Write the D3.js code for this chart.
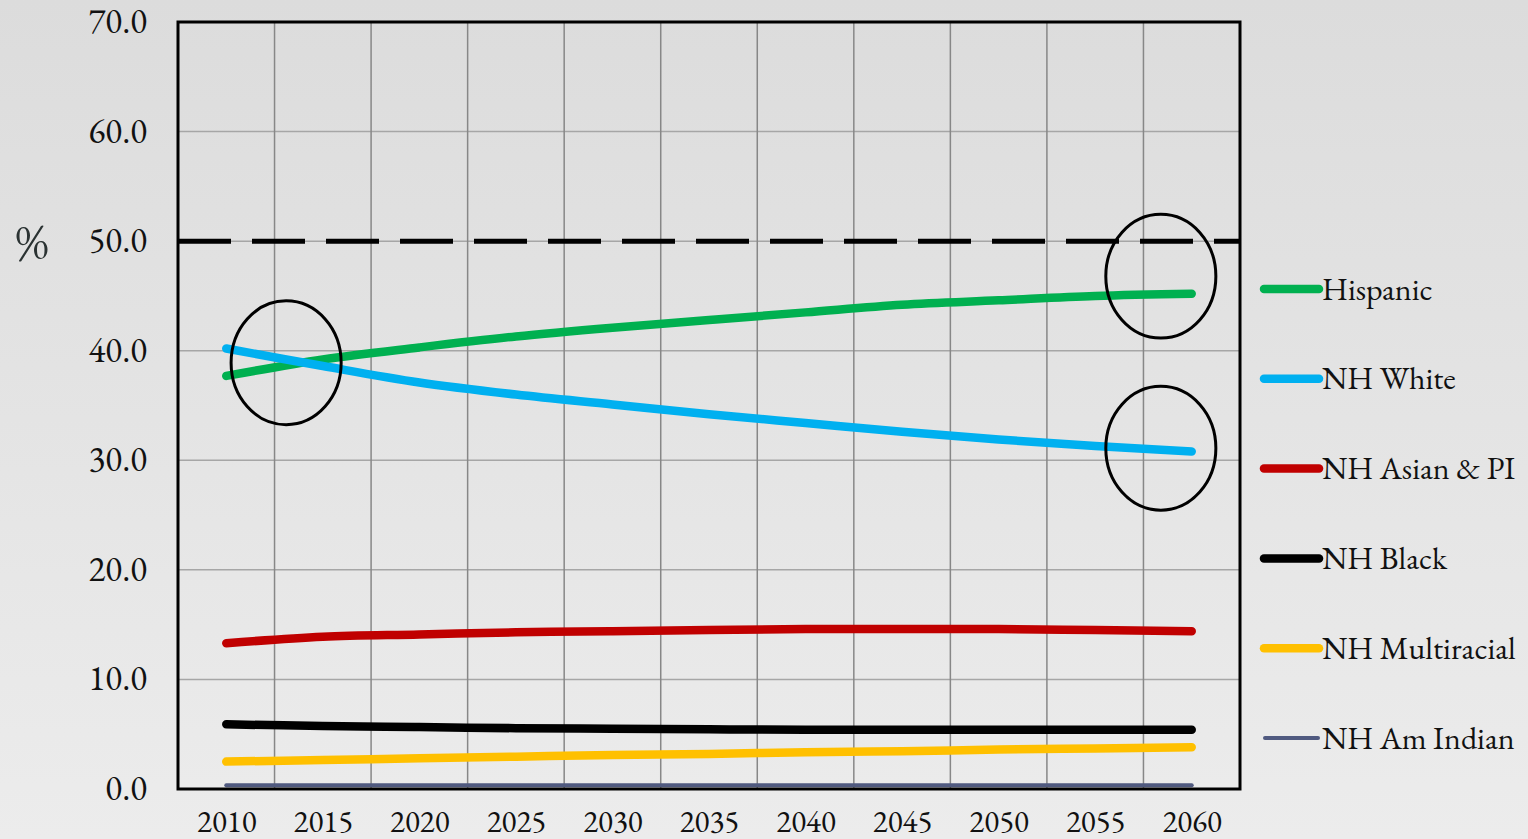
<!DOCTYPE html>
<html><head><meta charset="utf-8">
<script src="https://cdn.jsdelivr.net/npm/d3@7"></script>
<style>
html,body{margin:0;padding:0;overflow:hidden;}
svg{display:block;}
</style></head>
<body>
<svg id="chart" width="1528" height="839"></svg>
<script>
const years = [2010,2015,2020,2025,2030,2035,2040,2045,2050,2055,2060];
const hispanic    = [37.7,39.2,40.3,41.3,42.1,42.8,43.5,44.2,44.6,45.0,45.2];
const nhWhite     = [40.2,38.6,37.1,36.0,35.1,34.2,33.4,32.6,31.9,31.3,30.8];
const nhAsian     = [13.3,13.9,14.1,14.3,14.4,14.5,14.6,14.6,14.6,14.5,14.4];
const nhBlack     = [5.9,5.75,5.65,5.55,5.5,5.45,5.4,5.4,5.4,5.4,5.4];
const nhMulti     = [2.5,2.65,2.8,2.95,3.1,3.2,3.35,3.45,3.6,3.7,3.8];
const nhAmIndian  = [0.35,0.35,0.35,0.35,0.35,0.35,0.35,0.35,0.35,0.35,0.35];
const seriesNames = ["Hispanic","NH White","NH Asian & PI","NH Black","NH Multiracial","NH Am Indian"];
const yTicks = [0,10,20,30,40,50,60,70];
const threshold = 50;
// annotation ellipses: [year, value, halfWidthYears, halfHeightValue]
const highlights = [[2013.1,38.9,2.85,5.65],[2058.4,46.8,2.85,5.65],[2058.4,31.1,2.85,5.65]];

const seriesValues = [hispanic,nhWhite,nhAsian,nhBlack,nhMulti,nhAmIndian];
const colors = ["#00b050","#00b0f0","#c00000","#000000","#ffc000","#505a80"];
const widths = [8.5,8.5,8.5,8.5,8.5,4];
const FONT = "'EB Garamond','Garamond','Liberation Serif',serif";

const W=1528,H=839;
const svg=d3.select("#chart");
const defs=svg.append("defs");
const grad=defs.append("linearGradient").attr("id","bg").attr("x1",0).attr("y1",0).attr("x2",0).attr("y2",1);
grad.append("stop").attr("offset","0%").attr("stop-color","#dcdcdc");
grad.append("stop").attr("offset","100%").attr("stop-color","#ececec");
svg.append("rect").attr("width",W).attr("height",H).attr("fill","url(#bg)");

const L=178,R=1240,T=22,B=789;
const x=d3.scaleLinear().domain([2007.5,2062.5]).range([L,R]);
const y=d3.scaleLinear().domain([0,70]).range([B,T]);

// gridlines
const g=svg.append("g");
g.selectAll("line.h").data(yTicks.filter(v=>v>0&&v<70)).join("line")
 .attr("x1",L).attr("x2",R).attr("y1",d=>y(d)).attr("y2",d=>y(d))
 .attr("stroke","#a6a6a6").attr("stroke-width",1.5);
g.selectAll("line.v").data(years.slice(0,-1).map(d=>d+2.5)).join("line")
 .attr("x1",d=>x(d)).attr("x2",d=>x(d)).attr("y1",T).attr("y2",B)
 .attr("stroke","#878787").attr("stroke-width",1.5);

// threshold dashed line
svg.append("line").attr("x1",L).attr("x2",R).attr("y1",y(threshold)).attr("y2",y(threshold))
 .attr("stroke","#000").attr("stroke-width",5).attr("stroke-dasharray","53 21");

// series lines
const line=d3.line().x((d,i)=>x(years[i])).y(d=>y(d)).curve(d3.curveCatmullRom.alpha(0.5));
const order=[5,4,3,2,0,1];
order.forEach(k=>{
  svg.append("path").attr("d",line(seriesValues[k])).attr("fill","none")
   .attr("stroke",colors[k]).attr("stroke-width",widths[k]).attr("stroke-linecap","round").attr("stroke-linejoin","round");
});

// ellipses
svg.selectAll("ellipse.hl").data(highlights).join("ellipse")
 .attr("cx",d=>x(d[0])).attr("cy",d=>y(d[1]))
 .attr("rx",d=>x(d[0]+d[2])-x(d[0])).attr("ry",d=>y(d[1]-d[3])-y(d[1]))
 .attr("fill","none").attr("stroke","#000").attr("stroke-width",3);

// plot border
svg.append("rect").attr("x",L).attr("y",T).attr("width",R-L).attr("height",B-T)
 .attr("fill","none").attr("stroke","#000").attr("stroke-width",3);

// y axis labels
const yAxis=d3.axisLeft(y).tickValues(yTicks).tickFormat(d3.format(".1f")).tickSize(0).tickPadding(31);
const ya=svg.append("g").attr("transform",`translate(${L},0)`).call(yAxis);
ya.select(".domain").remove();
ya.selectAll("text").style("font-family",FONT).style("font-size","35px").attr("fill","#111").attr("dy","0.3em");

// x axis labels
const xAxis=d3.axisBottom(x).tickValues(years).tickFormat(d3.format("d")).tickSize(0).tickPadding(21);
const xa=svg.append("g").attr("transform",`translate(0,${B})`).call(xAxis);
xa.select(".domain").remove();
xa.selectAll("text").style("font-family",FONT).style("font-size","31px").attr("fill","#111");

// % label
svg.append("text").attr("x",32).attr("y",y(threshold)).attr("dy","0.35em").attr("text-anchor","middle")
 .style("font-family",FONT).style("font-size","50px").attr("fill","#2b3333").text("%");

// legend
const leg=svg.append("g");
const legY=d3.scalePoint().domain(seriesNames).range([289,738]);
seriesNames.forEach((n,k)=>{
  const yy=legY(n);
  leg.append("line").attr("x1",k==5?1265:1264).attr("x2",k==5?1318:1319).attr("y1",yy).attr("y2",yy)
   .attr("stroke",colors[k]).attr("stroke-width",widths[k]).attr("stroke-linecap","round");
  leg.append("text").attr("x",1322).attr("y",yy).attr("dy","0.33em")
   .style("font-family",FONT).style("font-size","32px").attr("fill","#111").text(n);
});
</script>
</body></html>
